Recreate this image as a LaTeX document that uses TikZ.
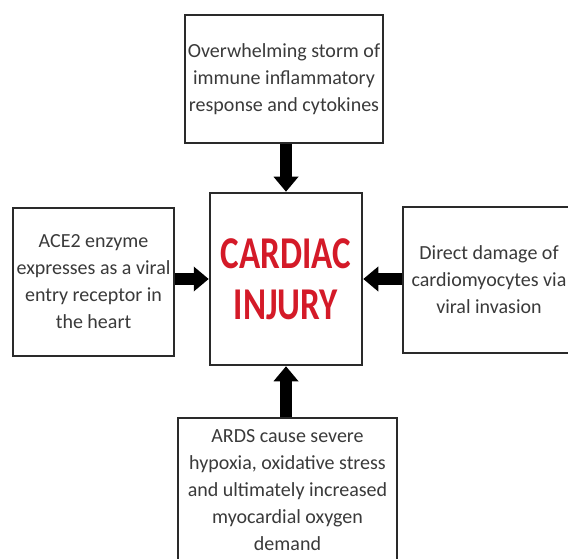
\documentclass[tikz,border=0pt]{standalone}
\usepackage{fontspec}
\setmainfont{Carlito}
\usetikzlibrary{arrows.meta}
\definecolor{txt}{HTML}{3A3A3A}
\definecolor{cred}{HTML}{D41A28}
\definecolor{bord}{HTML}{2A2A2A}
\begin{document}
\begin{tikzpicture}[x=1pt,y=-1pt,
  box/.style={draw=bord,line width=2.5pt,fill=white,inner sep=0pt,align=center,text=txt,
    font=\fontsize{20}{27}\selectfont},
  conn/.style={line width=12pt,-{Triangle[width=24pt,length=15pt]}}]
\useasboundingbox (0,0) rectangle (568,559);
\clip (0,0) rectangle (568,559);
\node[box,minimum width=198pt,minimum height=128pt] (top) at (284,79)
  {Overwhelming storm of\\immune inflammatory\\response and cytokines};
\node[box,minimum width=152pt,minimum height=172pt,text=cred,
  font=\bfseries\fontsize{35}{51}\selectfont] (center) at (286,279)
  {\scalebox{1}[1.3]{CARDIAC}\\\scalebox{1}[1.3]{INJURY}};
\node[box,minimum width=161pt,minimum height=148pt] (left) at (93.5,282)
  {ACE2 enzyme\\expresses as a viral\\entry receptor in\\the heart};
\node[box,minimum width=172pt,minimum height=146pt] (right) at (489,280)
  {Direct damage of\\cardiomyocytes via\\viral invasion};
\node[box,minimum width=219pt,minimum height=144pt] (bottom) at (287.5,490)
  {ARDS cause severe\\hypoxia, oxidative stress\\and ultimately increased\\myocardial oxygen\\demand};
\draw[conn] (top.south -| center.north) -- (center.north);
\draw[conn] (left.east |- center.west) -- (center.west);
\draw[conn] (right.west |- center.east) -- (center.east);
\draw[conn] (center.south |- bottom.north) -- (center.south);
\end{tikzpicture}
\end{document}
